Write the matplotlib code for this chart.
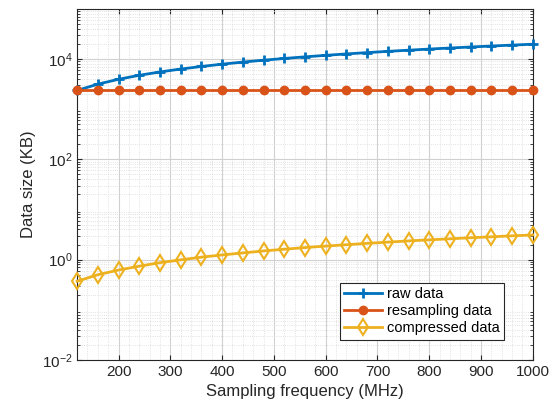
import matplotlib
matplotlib.use("Agg")
import matplotlib.pyplot as plt
from matplotlib.ticker import LogLocator, NullFormatter, MultipleLocator

plt.rcParams['font.family'] = ['Liberation Sans', 'DejaVu Sans']

freq = [120, 160, 200, 240, 280, 320, 360, 400, 440, 480, 520, 560,
        600, 640, 680, 720, 760, 800, 840, 880, 920, 960, 1000]
raw = [2360, 3150, 3940, 4730, 5520, 6300, 7090, 7880, 8670, 9460, 10240, 11030,
       11820, 12610, 13400, 14180, 14970, 15760, 16550, 17340, 18120, 18910, 19700]
resampling = [2360] * len(freq)
compressed = [0.37, 0.50, 0.62, 0.74, 0.87, 0.99, 1.12, 1.24, 1.36, 1.49, 1.61, 1.74,
              1.86, 1.98, 2.11, 2.23, 2.36, 2.48, 2.60, 2.73, 2.85, 2.98, 3.10]

fig = plt.figure(figsize=(5.51, 4.2), dpi=100)
ax = fig.add_axes([0.14, 0.143, 0.827, 0.836])

ax.plot(freq, raw, color='#0072BD', lw=2, marker='+', ms=7, mew=2,
        clip_on=False, zorder=3, label='raw data')
ax.plot(freq, resampling, color='#D95319', lw=2, marker='o', ms=6,
        clip_on=False, zorder=3, label='resampling data')
ax.plot(freq, compressed, color='#EDB120', lw=2, marker='d', ms=8, mew=1.5,
        mfc='none', clip_on=False, zorder=3, label='compressed data')

ax.set_yscale('log')
ax.set_xlim(120, 1000)
ax.set_ylim(1e-2, 1e5)
ax.set_xticks([200, 300, 400, 500, 600, 700, 800, 900, 1000])
ax.xaxis.set_minor_locator(MultipleLocator(20))
ax.set_yticks([1e-2, 1e0, 1e2, 1e4])
ax.yaxis.set_minor_locator(LogLocator(base=10, subs=range(2, 10), numticks=20))
ax.yaxis.set_minor_formatter(NullFormatter())

ax.grid(True, which='major', color='#d0d0d0', lw=0.8)
ax.grid(True, which='minor', color='#d8d8d8', lw=0.6, ls=':')
ax.set_axisbelow(True)
ax.tick_params(which='both', direction='in', top=True, right=True, labelsize=11,
               colors='#262626')
ax.tick_params(axis='y', which='minor', length=2.5)
ax.tick_params(axis='x', which='minor', length=0)
for s in ax.spines.values():
    s.set_color('#262626')
    s.set_linewidth(0.8)

ax.set_xlabel('Sampling frequency (MHz)', fontsize=12, color='#262626')
ax.set_ylabel('Data size (KB)', fontsize=12, color='#262626')

leg = ax.legend(loc='lower right', bbox_to_anchor=(0.952, 0.037), fontsize=10.5,
                fancybox=False, edgecolor='#262626', framealpha=1,
                handlelength=2.6, borderpad=0.3, labelspacing=0.2, handletextpad=0.3)
leg.get_frame().set_linewidth(0.8)

fig.savefig('out.png', dpi=100)
